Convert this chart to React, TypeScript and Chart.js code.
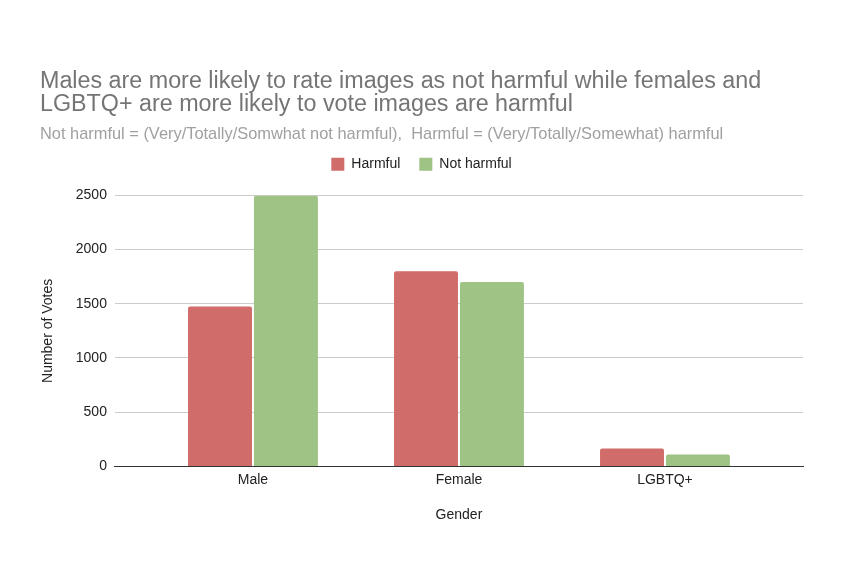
import { useEffect, useRef } from 'react';
import { Chart, registerables } from 'chart.js';

Chart.register(...registerables);

const genders = ['Male', 'Female', 'LGBTQ+'];
const harmfulVotes = [1475, 1800, 165];
const notHarmfulVotes = [2495, 1700, 110];
const yTicks = [0, 500, 1000, 1500, 2000, 2500];
const titleLines = [
  'Males are more likely to rate images as not harmful while females and',
  'LGBTQ+ are more likely to vote images are harmful',
];
const subtitleText =
  'Not harmful = (Very/Totally/Somwhat not harmful),  Harmful = (Very/Totally/Somewhat) harmful';

const FONT = "Arial, 'Liberation Sans', sans-serif";

// pushes the plot down below the legend (legend has no margin option)
const legendGap = {
  id: 'legendGap',
  beforeInit(chart: any) {
    const fit = chart.legend.fit;
    chart.legend.fit = function () {
      fit.bind(chart.legend)();
      this.height += 14;
    };
  },
};

const App = () => {
  const canvasRef = useRef<HTMLCanvasElement | null>(null);

  useEffect(() => {
    if (!canvasRef.current) return;
    const chart = new Chart(canvasRef.current, {
      type: 'bar',
      data: {
        datasets: [
          {
            label: 'Harmful',
            data: harmfulVotes.map((v, i) => ({ x: i, y: v })),
            backgroundColor: '#d06c6a',
            borderRadius: 2,
            borderSkipped: 'bottom',
            barPercentage: 0.97,
            categoryPercentage: 0.64,
          },
          {
            label: 'Not harmful',
            data: notHarmfulVotes.map((v, i) => ({ x: i, y: v })),
            backgroundColor: '#9ec385',
            borderRadius: 2,
            borderSkipped: 'bottom',
            barPercentage: 0.97,
            categoryPercentage: 0.64,
          },
        ],
      },
      plugins: [legendGap],
      options: {
        responsive: true,
        maintainAspectRatio: false,
        animation: false,
        layout: { padding: { left: 40, right: 41, top: 70, bottom: 56 } },
        plugins: {
          title: {
            display: true,
            text: titleLines,
            align: 'start',
            color: '#757575',
            font: { family: FONT, size: 23.3, weight: 'normal', lineHeight: 1.0 },
            padding: { top: 0, bottom: 8 },
          },
          subtitle: {
            display: true,
            text: subtitleText,
            align: 'start',
            color: '#a0a0a0',
            font: { family: FONT, size: 16.4, weight: 'normal' },
            padding: { top: 0, bottom: -6 },
          },
          legend: {
            position: 'top',
            labels: {
              boxWidth: 13,
              boxHeight: 13,
              color: '#222',
              font: { family: FONT, size: 14 },
              padding: 19,
            },
          },
          tooltip: { enabled: false },
        },
        scales: {
          x: {
            type: 'linear',
            min: -0.67,
            max: 2.67,
            offset: false,
            afterBuildTicks: (scale: any) => {
              scale.ticks = genders.map((_, i) => ({ value: i }));
            },
            grid: { display: false, drawTicks: false, offset: false },
            border: { display: true, color: '#333', width: 1 },
            ticks: {
              color: '#222',
              font: { family: FONT, size: 14 },
              padding: 5,
              callback: (value: any) => genders[value] ?? '',
            },
            title: {
              display: true,
              text: 'Gender',
              color: '#222',
              font: { family: FONT, size: 14 },
              padding: { top: 14, bottom: 0 },
            },
          },
          y: {
            min: 0,
            max: 2500,
            afterBuildTicks: (scale: any) => {
              scale.ticks = yTicks.map((v) => ({ value: v }));
            },
            ticks: {
              color: '#222',
              font: { family: FONT, size: 14 },
              padding: 8,
              callback: (value: any) => String(value),
            },
            grid: { color: '#cccccc', drawTicks: false },
            border: { display: false },
            title: {
              display: true,
              text: 'Number of Votes',
              color: '#222',
              font: { family: FONT, size: 14 },
              padding: { top: 0, bottom: 11 },
            },
          },
        },
      },
    });
    return () => chart.destroy();
  }, []);

  return (
    <div style={{ position: 'fixed', left: 0, top: 0, width: 844, height: 580, background: '#fff' }}>
      <canvas ref={canvasRef} />
    </div>
  );
};

export default App;
